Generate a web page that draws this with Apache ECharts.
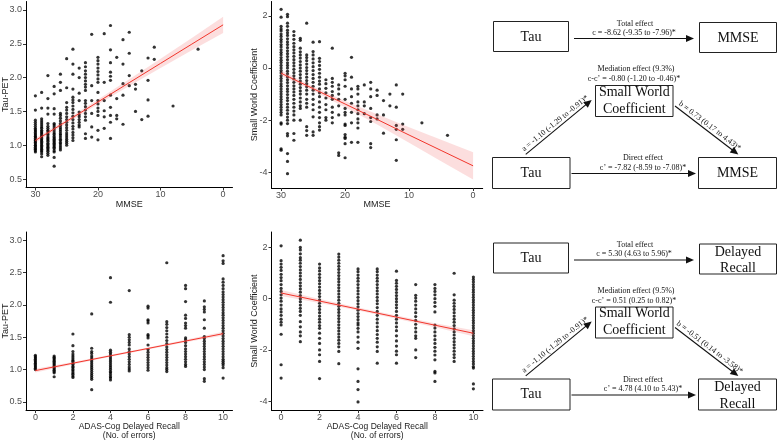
<!DOCTYPE html>
<html><head><meta charset="utf-8">
<script src="https://cdn.jsdelivr.net/npm/echarts@6/dist/echarts.min.js"></script>
<style>html,body{margin:0;padding:0;background:#fff}#c{width:778px;height:441px}</style>
</head><body><div id="c"></div>
<script>
// ---------- DATA ----------
const mmseLevels = [30,29,28,27,26,25,24,23,22,21,20,19,18,17,16,15,14,13,12,11,8,4];
const tauByMmse = [
 [0.90,0.92,0.94,0.95,0.97,0.99,1.00,1.02,1.04,1.05,1.07,1.08,1.10,1.12,1.13,1.15,1.17,1.19,1.21,1.23,1.25,1.28,1.31,1.34,1.37,1.52,1.73],
 [0.83,0.87,0.90,0.92,0.94,0.96,0.98,1.00,1.02,1.04,1.06,1.08,1.10,1.12,1.14,1.16,1.18,1.20,1.22,1.25,1.27,1.30,1.33,1.36,1.39,1.55,1.78],
 [0.85,0.88,0.91,0.93,0.95,0.97,0.99,1.01,1.03,1.06,1.08,1.10,1.12,1.15,1.17,1.20,1.22,1.25,1.28,1.32,1.46,1.55,1.69,2.03],
 [0.69,0.82,0.90,0.92,0.95,0.97,0.99,1.01,1.03,1.05,1.07,1.09,1.11,1.13,1.16,1.18,1.21,1.24,1.27,1.30,1.32,1.46,1.54,1.76,1.87],
 [0.93,0.96,0.99,1.02,1.04,1.07,1.09,1.12,1.15,1.17,1.20,1.23,1.26,1.29,1.32,1.36,1.40,1.44,1.47,1.81,1.93,2.05],
 [1.00,1.03,1.06,1.09,1.12,1.15,1.18,1.22,1.26,1.30,1.34,1.38,1.42,1.47,1.52,1.56,1.63,1.85,2.28],
 [1.07,1.11,1.15,1.19,1.24,1.28,1.33,1.38,1.43,1.48,1.53,1.58,1.63,1.67,1.71,1.83,2.05,2.20,2.42],
 [1.27,1.30,1.34,1.38,1.42,1.45,1.49,1.66,1.77,2.00,2.14],
 [1.10,1.17,1.37,1.42,1.47,1.52,1.57,1.62,1.66,1.81,1.86,1.90,1.95,2.00,2.05,2.10,2.16,2.22],
 [1.12,1.27,1.47,1.66,1.88,2.64],
 [1.08,1.22,1.44,1.50,1.55,1.61,1.66,1.78,1.93,1.98,2.04,2.09,2.14,2.20,2.25,2.30],
 [1.25,1.42,1.51,1.66,1.93,2.65],
 [1.10,1.34,1.44,1.56,1.74,1.96,2.02,2.08,2.22,2.41,2.77],
 [1.39,1.44,1.69,2.30],
 [1.31,1.74,1.91,2.20,2.56],
 [1.88,2.03,2.36,2.67],
 [1.50,1.83,1.90],
 [1.38,2.10],
 [1.43,1.67,1.96,2.29],
 [2.27,2.45],
 [1.58],
 [2.42]
];
const swByMmse = [
 [2.25,1.95,1.6,1.5,1.42,1.3,1.21,1.1,1.01,0.9,0.81,0.7,0.6,0.51,0.4,0.3,0.21,0.1,0.0,-0.1,-0.19,-0.3,-0.4,-0.5,-0.61,-0.7,-0.8,-0.9,-1.0,-1.1,-1.2,-1.3,-1.4,-1.5,-1.6,-1.7,-1.8,-2.1,-2.15,-3.1,-3.15],
 [2.06,1.97,1.72,1.6,1.45,1.35,1.25,1.12,1.0,0.9,0.78,0.66,0.55,0.44,0.32,0.2,0.1,0.0,-0.12,-0.22,-0.34,-0.45,-0.56,-0.68,-0.8,-0.9,-1.02,-1.14,-1.25,-1.38,-1.5,-1.62,-1.75,-1.88,-2.0,-2.13,-2.51,-2.6,-3.28,-3.58,-4.05],
 [1.4,1.25,1.1,0.95,0.82,0.7,0.58,0.45,0.32,0.2,0.08,-0.05,-0.18,-0.3,-0.42,-0.55,-0.68,-0.8,-0.92,-1.05,-1.2,-1.35,-1.5,-1.65,-1.8,-2.0,-2.51,-2.77],
 [1.14,1.06,0.76,0.62,0.5,0.38,0.25,0.12,0.0,-0.12,-0.25,-0.38,-0.5,-0.62,-0.75,-0.88,-1.0,-1.15,-1.3,-1.45,-1.55,-2.0],
 [1.72,0.5,0.4,0.28,0.15,0.02,-0.1,-0.22,-0.35,-0.48,-0.6,-0.72,-0.85,-1.0,-1.2,-1.35,-1.5,-2.25,-2.4,-2.58],
 [0.99,0.63,0.5,0.35,0.2,0.05,-0.1,-0.25,-0.4,-0.55,-0.7,-0.85,-1.0,-1.2,-1.4,-1.6,-1.87,-2.45,-2.58],
 [1.01,0.37,0.25,0.1,-0.05,-0.2,-0.35,-0.5,-0.62,-0.8,-0.95,-1.1,-1.3,-1.5,-1.7,-1.9,-2.1,-2.25,-2.38],
 [-0.45,-0.6,-0.78,-0.95,-1.15,-1.4,-1.6,-1.9,-2.0],
 [0.76,-0.4,-0.55,-0.7,-0.9,-1.05,-1.2,-1.5,-1.7,-1.9,-2.1],
 [-0.65,-0.8,-1.0,-1.2,-1.45,-1.8,-3.25,-3.35],
 [-0.2,-0.3,-0.45,-0.7,-1.2,-1.55,-1.7,-1.8,-2.15,-2.2,-2.55,-2.65,-2.7,-2.9,-3.44],
 [0.41,-0.35,-0.8,-1.1,-1.35,-1.7,-2.1,-2.85],
 [-0.7,-0.8,-1.0,-1.3,-1.45,-1.6,-1.75,-1.95,-2.1,-2.3,-2.85],
 [-0.65,-1.3,-1.45,-1.75],
 [-0.55,-0.8,-1.1,-1.55,-1.9,-2.05,-2.9,-3.05],
 [-0.85,-1.05,-1.8,-1.95],
 [-1.25,-1.8,-2.5],
 [-1.0,-1.45],
 [-0.65,-1.5,-2.2,-2.35,-2.75,-3.54],
 [-1.0,-2.15,-2.35],
 [-2.1],
 [-2.58]
];
const adasLevels = [0,1,2,3,4,5,6,7,8,9,10];
const tauByAdas = [
 [1.00,1.02,1.04,1.06,1.08,1.10,1.12,1.14,1.16,1.18,1.20,1.22],
 [0.89,0.95,0.97,0.99,1.01,1.03,1.05,1.07,1.09,1.11,1.13,1.15,1.17,1.19,1.21],
 [0.88,0.90,0.93,0.95,0.98,1.00,1.03,1.05,1.08,1.10,1.13,1.15,1.18,1.21,1.24,1.28,1.37,1.55],
 [0.69,0.85,0.88,0.91,0.94,0.97,1.00,1.03,1.06,1.09,1.12,1.15,1.18,1.21,1.25,1.28,1.33,1.86],
 [0.84,0.87,0.89,0.92,0.95,0.97,1.00,1.03,1.06,1.09,1.12,1.15,1.18,1.21,1.24,1.27,1.30,2.04,2.42],
 [0.98,1.01,1.04,1.08,1.12,1.16,1.20,1.24,1.28,1.32,1.38,1.42,1.46,1.50,1.54,2.22],
 [0.99,1.03,1.07,1.11,1.15,1.19,1.23,1.27,1.31,1.38,1.49,1.52,1.54,1.72,1.75,1.77,1.95,1.98],
 [0.97,1.00,1.03,1.07,1.11,1.15,1.19,1.23,1.27,1.31,1.35,1.40,1.45,1.50,1.55,1.60,1.65,1.70,1.74,2.65],
 [1.05,1.08,1.12,1.16,1.20,1.24,1.28,1.32,1.37,1.42,1.46,1.49,1.64,1.68,1.72,1.79,1.84,2.05,2.25,2.30],
 [0.82,0.86,1.00,1.04,1.08,1.12,1.16,1.20,1.24,1.28,1.32,1.36,1.40,1.44,1.48,1.51,1.64,1.77,1.89,1.93,1.97,2.06],
 [0.87,1.03,1.07,1.10,1.13,1.16,1.20,1.24,1.28,1.32,1.36,1.40,1.44,1.48,1.52,1.56,1.60,1.64,1.68,1.72,1.76,1.80,1.84,1.88,1.92,1.96,2.00,2.04,2.08,2.12,2.16,2.20,2.25,2.30,2.35,2.40,2.64,2.68,2.76]
];
const swByAdas = [
 [2.06,1.48,1.35,1.22,1.1,0.95,0.82,0.7,0.55,0.4,0.28,0.15,0.02,-0.1,-0.25,-0.4,-0.52,-0.65,-0.8,-0.92,-1.03,-1.39,-2.58,-3.1],
 [2.28,2.0,1.9,1.75,1.6,1.5,1.38,1.25,1.12,1.0,0.88,0.75,0.62,0.5,0.38,0.25,0.12,0.0,-0.12,-0.25,-0.38,-0.5,-0.65,-0.9,-1.1,-1.3,-1.45,-1.68],
 [1.35,1.2,1.08,0.95,0.82,0.7,0.58,0.45,0.32,0.2,0.08,-0.05,-0.18,-0.3,-0.42,-0.55,-0.68,-0.8,-0.92,-1.05,-1.16,-1.35,-1.55,-1.75,-2.0,-2.19,-2.45,-3.12],
 [1.74,1.62,1.5,1.38,1.26,1.14,1.02,0.9,0.78,0.66,0.54,0.42,0.3,0.18,0.06,-0.06,-0.18,-0.3,-0.42,-0.54,-0.66,-0.78,-0.9,-1.02,-1.14,-1.26,-1.38,-1.5,-1.62,-1.75,-1.88,-2.06,-2.54],
 [1.16,1.05,0.92,0.8,0.68,0.55,0.42,0.3,0.18,0.05,-0.08,-0.2,-0.32,-0.45,-0.58,-0.7,-0.82,-0.95,-1.03,-1.16,-1.3,-1.5,-1.7,-1.94,-2.74,-3.23,-3.55,-4.03],
 [1.16,1.05,0.92,0.8,0.68,0.55,0.42,0.3,0.18,0.05,-0.08,-0.2,-0.35,-0.5,-0.65,-0.8,-0.95,-1.1,-1.25,-1.4,-1.55,-1.7,-1.88,-2.06,-2.52],
 [1.07,0.71,0.6,0.48,0.36,0.24,0.12,0.0,-0.12,-0.24,-0.36,-0.5,-0.65,-0.8,-0.95,-1.1,-1.25,-1.45,-1.65,-1.85,-2.05,-2.19,-2.52],
 [0.55,0.13,0.02,-0.1,-0.25,-0.4,-0.55,-0.7,-0.85,-1.0,-1.15,-1.3,-1.45,-1.55,-2.0,-2.3],
 [0.55,0.4,0.28,0.15,0.0,-0.15,-0.3,-0.52,-1.03,-1.15,-1.3,-1.45,-1.6,-1.75,-1.9,-2.05,-2.2,-2.39,-2.84,-2.9,-3.23],
 [0.99,0.15,-0.06,-0.18,-0.3,-0.42,-0.55,-0.68,-0.8,-0.92,-1.05,-1.18,-1.3,-1.42,-1.55,-1.68,-1.8,-1.92,-2.05,-2.18,-2.3,-2.45],
 [0.84,0.75,0.65,0.55,0.45,0.35,0.25,0.15,0.05,-0.05,-0.15,-0.25,-0.35,-0.45,-0.55,-0.65,-0.75,-0.85,-0.95,-1.05,-1.15,-1.25,-1.35,-1.45,-1.55,-1.65,-1.75,-1.85,-1.95,-2.05,-2.15,-2.25,-2.35,-2.45,-2.55,-2.65,-2.71,-3.33,-3.52]
];
// regression fits with confidence band
const fitMmseX = [30,25,20,15,10,5,0];
const fitTauMmse = [1.07,1.355,1.64,1.925,2.21,2.495,2.78];
const fitTauMmseLo = [1.035,1.325,1.605,1.875,2.14,2.405,2.66];
const fitTauMmseHi = [1.105,1.385,1.675,1.975,2.28,2.585,2.90];
const fitSwMmse = [-0.2,-0.79,-1.38,-1.97,-2.57,-3.16,-3.75];
const fitSwMmseLo = [-0.30,-0.87,-1.50,-2.17,-2.87,-3.57,-4.27];
const fitSwMmseHi = [-0.10,-0.71,-1.26,-1.77,-2.27,-2.75,-3.23];
const fitAdasX = [0,2,4,6,8,10];
const fitTauAdas = [0.985,1.099,1.213,1.327,1.441,1.555];
const fitTauAdasLo = [0.955,1.079,1.198,1.312,1.421,1.525];
const fitTauAdasHi = [1.015,1.119,1.228,1.342,1.461,1.585];
const fitSwAdas = [0.22,-0.094,-0.408,-0.722,-1.036,-1.35];
const fitSwAdasLo = [0.10,-0.174,-0.468,-0.782,-1.116,-1.47];
const fitSwAdasHi = [0.34,-0.014,-0.348,-0.662,-0.956,-1.23];
// tick labels
const mmseTicks = [0,10,20,30];
const adasTicks = [0,2,4,6,8,10];
const tauTicks = [0.5,1.0,1.5,2.0,2.5,3.0];
const swTicks = [-4,-2,0,2];

// ---------- CHART ----------
const SANS = '"Liberation Sans", Arial, sans-serif';
const SERIF = '"Liberation Serif", "Times New Roman", serif';
const chart = echarts.init(document.getElementById('c'), null, {renderer:'canvas'});

function pairs(levels, cols){ const out=[]; levels.forEach((x,i)=>cols[i].forEach(y=>out.push([x,y]))); return out; }
function zip(xs, ys){ return xs.map((x,i)=>[x, ys[i]]); }

const grids = [
  {left:26, top:1.5, width:206.5, height:186},
  {left:271.5, top:1.5, width:211.2, height:186.5},
  {left:26, top:232, width:206.5, height:179},
  {left:271.5, top:232, width:211.5, height:179}
];
function xAx(gi, min, max, ticks, inverse, name, gap, fs){
  return {gridIndex:gi, type:'value', min, max, inverse,
    name, nameLocation:'middle', nameGap:gap, nameMoveOverlap:false,
    nameTextStyle:{fontFamily:SANS, fontSize:fs, color:'#222', lineHeight:8.6},
    axisLine:{show:true, onZero:false, lineStyle:{color:'#000', width:1}},
    axisTick:{show:true, length:3, customValues:ticks, lineStyle:{color:'#333'}},
    axisLabel:{customValues:ticks, margin:3, fontFamily:SANS, fontSize:9, color:'#4d4d4d'},
    splitLine:{show:false}};
}
function yAx(gi, min, max, ticks, fmt, name, gap){
  return {gridIndex:gi, type:'value', min, max,
    name, nameLocation:'middle', nameGap:gap, nameRotate:90, nameMoveOverlap:false,
    nameTextStyle:{fontFamily:SANS, fontSize:9, color:'#222'},
    axisLine:{show:true, onZero:false, lineStyle:{color:'#000', width:1}},
    axisTick:{show:true, length:3, customValues:ticks, lineStyle:{color:'#333'}},
    axisLabel:{customValues:ticks, margin:4, fontFamily:SANS, fontSize:9, color:'#4d4d4d', formatter:fmt},
    splitLine:{show:false}};
}
function band(gi, xs, lo, hi){
  return {type:'custom', xAxisIndex:gi, yAxisIndex:gi, z:3, silent:true, data:[[xs[0], lo[0]]],
    renderItem:(p, api)=>{
      const pts=[];
      for(let k=0;k<xs.length;k++) pts.push(api.coord([xs[k], hi[k]]));
      for(let k=xs.length-1;k>=0;k--) pts.push(api.coord([xs[k], lo[k]]));
      return {type:'polygon', shape:{points:pts}, style:{fill:'rgba(240,70,70,0.18)', stroke:null}};
    }};
}
function fitLine(gi, xs, ys){
  return {type:'line', xAxisIndex:gi, yAxisIndex:gi, z:4, data:zip(xs,ys), symbol:'none', silent:true,
    lineStyle:{color:'#f2362c', width:1}};
}
function scatter(gi, data){
  return {type:'scatter', xAxisIndex:gi, yAxisIndex:gi, z:2, data, symbolSize:3.2, silent:true,
    itemStyle:{color:'#000'}};
}
const f1 = v=>v.toFixed(1), f0 = v=>String(v);

// ---------- mediation diagrams (graphic) ----------
function box(x1,y1,x2,y2){ return {type:'rect', shape:{x:x1,y:y1,width:x2-x1,height:y2-y1}, style:{fill:'#fff', stroke:'#222', lineWidth:1}}; }
function txt(x,y,text,size,rot,lh){ return {type:'text', x, y, rotation:rot||0,
  style:{text, fill:'#111', fontFamily:SERIF, fontSize:size, align:'center', verticalAlign:'middle', lineHeight:lh||size*1.15}}; }
function arrow(x1,y1,x2,y2){
  const dx=x2-x1, dy=y2-y1, L=Math.hypot(dx,dy), ux=dx/L, uy=dy/L, nx=-uy, ny=ux, hl=8, hw=3.6;
  const bx=x2-ux*hl, by=y2-uy*hl;
  return [
    {type:'line', shape:{x1,y1,x2:bx+ux, y2:by+uy}, style:{stroke:'#111', lineWidth:1.1}},
    {type:'polygon', shape:{points:[[x2,y2],[bx+nx*hw,by+ny*hw],[bx-nx*hw,by-ny*hw]]}, style:{fill:'#111'}}
  ];
}
function diagram(dy, outcome, outLines, totalLbl, medPct, medLbl, bLbl, directLbl, ay){
  const g=[];
  g.push(box(493.5,dy+21.5,568.5,dy+51.5), txt(531,dy+37,'Tau',14));
  g.push(box(699.5,dy+22.5,776.5,dy+52.5), txt(738,dy+(outLines?39:38),outcome,14,0,16.5));
  g.push(...arrow(574,dy+38.5,694,dy+38.5));
  g.push(txt(635,dy+23.5,'Total effect',8), txt(634,dy+32.5,totalLbl,8));
  g.push(txt(636,dy+69,'Mediation effect ('+medPct+')',8), txt(634,dy+79,medLbl,8));
  g.push(box(595.5,dy+85.5,673,dy+116.5), txt(634.3,dy+100.5,'Small World\nCoefficient',14,0,17.3));
  g.push(box(492.5,dy+157.5,570,dy+188.5), txt(531,dy+173,'Tau',14));
  g.push(box(698.5,dy+157.5,776.5,dy+188.5), txt(737.5,dy+(outLines?174.5:173),outcome,14,0,16.5));
  g.push(...arrow(571.5,dy+173.5,696,dy+173.5));
  g.push(txt(643,dy+158,'Direct effect',8), txt(643,dy+167.5,directLbl,8));
  g.push(...arrow(525.7,dy+ay,591.7,dy+100));
  const a1=Math.atan2(-(dy+100-(dy+ay)), 66);
  g.push(txt(555.2,dy+123.3,'a = -1.10 (-1.29 to -0.91)*',8,a1));
  g.push(...arrow(675,dy+106,738.3,dy+154.5));
  g.push(txt(709.7,dy+126,bLbl,8,-Math.atan2(48.5,63.3)));
  return g;
}
const graphics = [].concat(
  diagram(0,'MMSE',false,'c = -8.62 (-9.35 to -7.96)*','9.3%','c-c’ = -0.80 (-1.20 to -0.46)*','b = 0.73 (0.17 to 4.43)*','c’ = -7.82 (-8.59 to -7.08)*',154.3),
  diagram(221.5,'Delayed\nRecall',true,'c = 5.30 (4.63 to 5.96)*','9.5%','c-c’ = 0.51 (0.25 to 0.82)*','b = -0.51 (0.14 to -3.58)*','c’ = 4.78 (4.10 to 5.43)*',154.3)
);

chart.setOption({
  animation:false,
  backgroundColor:'#fff',
  grid: grids,
  xAxis:[
    xAx(0,-1.5,31.5,mmseTicks,true,'MMSE',12.5,9),
    xAx(1,-1.5,31.5,mmseTicks,true,'MMSE',12.5,9),
    xAx(2,-0.5,10.5,adasTicks,false,'ADAS-Cog Delayed Recall\n(No. of errors)',12.5,8.5),
    xAx(3,-0.5,10.5,adasTicks,false,'ADAS-Cog Delayed Recall\n(No. of errors)',12.5,8.5)
  ],
  yAxis:[
    yAx(0,0.375,3.125,tauTicks,f1,'Tau-PET',15.5),
    yAx(1,-4.6,2.55,swTicks,f0,'Small World Coefficient',12),
    yAx(2,0.375,3.125,tauTicks,f1,'Tau-PET',15.5),
    yAx(3,-4.35,2.6,swTicks,f0,'Small World Coefficient',12)
  ],
  series:[
    scatter(0, pairs(mmseLevels, tauByMmse)),
    band(0, fitMmseX, fitTauMmseLo, fitTauMmseHi),
    fitLine(0, fitMmseX, fitTauMmse),
    scatter(1, pairs(mmseLevels, swByMmse)),
    band(1, fitMmseX, fitSwMmseLo, fitSwMmseHi),
    fitLine(1, fitMmseX, fitSwMmse),
    scatter(2, pairs(adasLevels, tauByAdas)),
    band(2, fitAdasX, fitTauAdasLo, fitTauAdasHi),
    fitLine(2, fitAdasX, fitTauAdas),
    scatter(3, pairs(adasLevels, swByAdas)),
    band(3, fitAdasX, fitSwAdasLo, fitSwAdasHi),
    fitLine(3, fitAdasX, fitSwAdas)
  ],
  graphic: graphics
});
</script></body></html>
